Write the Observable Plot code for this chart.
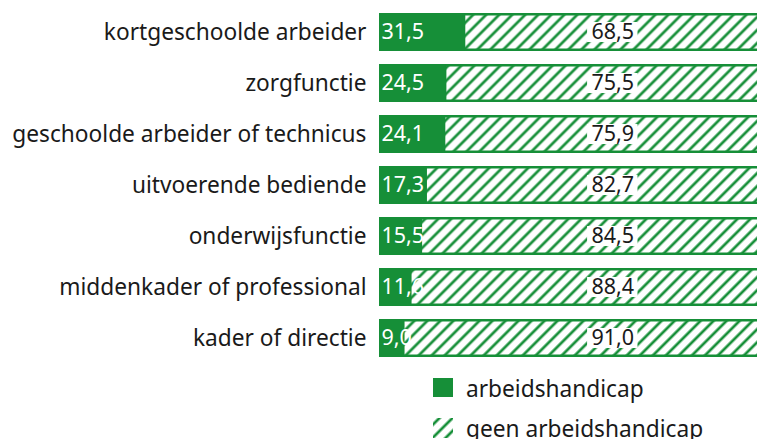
<!DOCTYPE html>
<html><head><meta charset="utf-8">
<script src="https://cdn.jsdelivr.net/npm/d3@7"></script>
<script src="https://cdn.jsdelivr.net/npm/@observablehq/plot@0.6"></script>
<style>
body{margin:0;background:#fff;font-family:"Noto Sans",sans-serif;}
#legend{margin-left:433px;margin-top:3px}
.row{display:flex;align-items:center;height:40px;font-size:22.7px;color:#1a1a1a}
.row svg{margin-right:13px;flex:none}
</style></head><body>
<div id="chart"></div>
<div id="legend"></div>
<script>
const categories = ["kortgeschoolde arbeider","zorgfunctie","geschoolde arbeider of technicus","uitvoerende bediende","onderwijsfunctie","middenkader of professional","kader of directie"];
const withHandicap = [31.5,24.5,24.1,17.3,15.5,11.6,9.0];
const withoutHandicap = [68.5,75.5,75.9,82.7,84.5,88.4,91.0];
const seriesNames = ["arbeidshandicap","geen arbeidshandicap"];

const GREEN = "#168f38";
const INK = "#1a1a1a";
const FONT = "'Noto Sans', sans-serif";
const restLabelAt = 69.5;   // fixed label column for the second series
const labelHalf = 5;        // half width of the white label box, in x units
const fmt = v => v.toFixed(1).replace(".", ",");
const rows = categories.map((c, i) => ({cat: c, a: withHandicap[i], b: withoutHandicap[i]}));

function patternDef(id){
  const defs = d3.create("svg:defs");
  const p = defs.append("pattern").attr("id", id).attr("patternUnits","userSpaceOnUse")
    .attr("width", 9.2).attr("height", 9.2).attr("patternTransform","rotate(45)");
  p.append("rect").attr("width",9.2).attr("height",9.2).attr("fill","white");
  p.append("line").attr("x1",4.6).attr("x2",4.6).attr("y1",-1).attr("y2",10.2)
    .attr("stroke",GREEN).attr("stroke-width",2.7);
  return defs;
}

const chart = Plot.plot({
  width: 757, height: 365,
  marginLeft: 379, marginRight: 0, marginTop: 12, marginBottom: 6,
  style: {fontFamily: FONT, fontSize: "21px", color: INK, background: "white"},
  x: {type: "linear", domain: [0, 50, 100], range: [379, 514, 766], axis: null},
  y: {domain: categories, paddingInner: 0.25, paddingOuter: 0, axis: null},
  marks: [
    () => { const g = d3.create("svg:g"); g.append(() => patternDef("hatch").node()); return g.node(); },
    Plot.barX(rows, {y: "cat", x1: "a", x2: d => d.a + d.b, fill: "url(#hatch)", stroke: GREEN, strokeWidth: 2.5, insetTop: 1.25, insetBottom: 1.25}),
    Plot.barX(rows, {y: "cat", x1: 0, x2: "a", fill: GREEN}),
    Plot.axisY({tickSize: 0, tickPadding: 13, fontSize: 22.7, label: null, fill: INK}),
    Plot.text(rows, {y: "cat", x: 0, text: d => fmt(d.a), textAnchor: "start", dx: 2, fill: "white", fontSize: 21.5}),
    Plot.barX(rows, {y: "cat", x1: d => restLabelAt - labelHalf, x2: d => restLabelAt + labelHalf, fill: "white", insetTop: 9, insetBottom: 9}),
    Plot.text(rows, {y: "cat", x: d => restLabelAt, text: d => fmt(d.b), fill: INK, fontSize: 21.5})
  ]
});
document.getElementById("chart").append(chart);

// legend
const legend = d3.select("#legend");
seriesNames.forEach((name, i) => {
  const row = legend.append("div").attr("class", "row");
  const s = row.append("svg").attr("width", 20).attr("height", 20);
  if (i === 0) s.append("rect").attr("width", 20).attr("height", 19).attr("fill", GREEN);
  else { s.append(() => patternDef("hatch-legend").node()); s.append("rect").attr("width", 20).attr("height", 20).attr("fill", "url(#hatch-legend)"); }
  row.append("span").text(name);
});
</script>
</body></html>
